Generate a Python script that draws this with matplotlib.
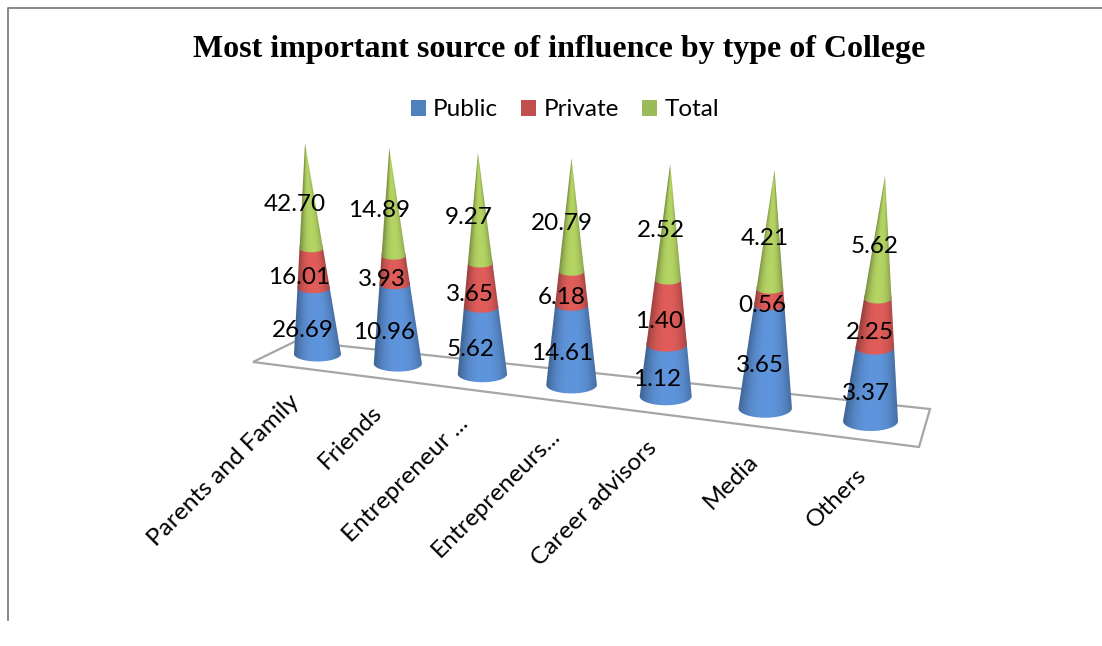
import numpy as np
import matplotlib
matplotlib.use("Agg")
import matplotlib.pyplot as plt
from matplotlib.patches import Patch, Polygon

categories = ["Parents and Family", "Friends", "Entrepreneur ...", "Entrepreneurs...",
              "Career advisors", "Media", "Others"]
public = [26.69, 10.96, 5.62, 14.61, 1.12, 3.65, 3.37]
private = [16.01, 3.93, 3.65, 6.18, 1.40, 0.56, 2.25]
total = [42.70, 14.89, 9.27, 20.79, 2.52, 4.21, 5.62]
series_names = ["Public", "Private", "Total"]

colors = ["#5f95dc", "#e05d5a", "#b4d463"]
legend_colors = ["#4f81bd", "#c0504d", "#9bbb59"]
ui_font = "Lato"


def depth(i):
    # perspective along the category axis, 0 for the first cone and 1 for the last
    return (i / (1 - 0.025 * i)) / (6 / 0.85)


def lerp(a, b, t):
    return a + (b - a) * t


fig = plt.figure(figsize=(11.02, 6.46), dpi=100)
ax = fig.add_axes([0, 0, 1, 1])
ax.axis("off")

# frame of the picture
ax.plot([8, 8, 1102], [620, 7.5, 7.5], color="#808080", lw=1.3)

# floor
ax.add_patch(Polygon([(253, 362), (296, 341), (930, 409), (919, 447)], closed=True,
                     fill=False, edgecolor="#a6a6a6", lw=1.6, zorder=1))

values = np.array([public, private, total], dtype=float)
shares = values / values.sum(axis=0)
tops = np.cumsum(shares, axis=0)

thetas = np.linspace(0, np.pi, 61)
for i in range(len(categories)):
    t = depth(i)
    base_x, base_y = lerp(317.5, 870.5, t), lerp(354, 421, t)
    apex_x, apex_y = lerp(305, 885, t), lerp(143, 176, t)
    rx, ry = lerp(23.5, 27.5, t), lerp(7.5, 10, t)

    for k in range(3):
        s0 = tops[k, i] - shares[k, i]
        # a bit of overlap under the next band, otherwise a white seam shows
        s1 = min(tops[k, i] + 0.015, 1.0)

        # outline: front arc of the lower edge, then front arc of the upper edge
        outline = []
        for s, arc in ((s0, thetas), (s1, thetas[::-1])):
            cx, cy = lerp(base_x, apex_x, s), lerp(base_y, apex_y, s)
            outline += [(cx + (1 - s) * rx * np.cos(a), cy + (1 - s) * ry * np.sin(a)) for a in arc]
        outline = np.array(outline)

        # horizontal shading, dark towards the sides of the cone
        x0, x1 = outline[:, 0].min() - 1, outline[:, 0].max() + 1
        y0, y1 = outline[:, 1].min() - 1, outline[:, 1].max() + 1
        xx, yy = np.meshgrid(np.linspace(x0, x1, 120), np.linspace(y0, y1, 120))
        s_map = np.clip((base_y - yy) / (base_y - apex_y), 0, 0.995)
        u = (xx - lerp(base_x, apex_x, s_map)) / ((1 - s_map) * rx)
        shade = 1 - 0.3 * np.clip(np.abs(u - 0.05), 0, 1) ** 2.5
        img = shade[..., None] * np.array(matplotlib.colors.to_rgb(colors[k]))
        im = ax.imshow(img, extent=(x0, x1, y1, y0), aspect="auto", origin="upper",
                       interpolation="bilinear", zorder=2 + i)
        im.set_clip_path(Polygon(outline, closed=True, transform=ax.transData))

    # value labels sit a little left of and below the middle of each band
    for k in range(3):
        mid = tops[k, i] - shares[k, i] / 2
        lx = lerp(base_x, apex_x, mid) - 13 + 1.1 * i
        ly = lerp(base_y, apex_y, mid) + 9
        ax.text(lx, ly, f"{values[k, i]:.2f}", ha="center", va="center",
                fontsize=17.5, family=ui_font, color="black", zorder=20)

    # category labels end under the cone
    ax.text(lerp(296, 863, t), lerp(398, 472, t), categories[i], rotation=45,
            rotation_mode="anchor", ha="right", va="center",
            fontsize=17.6, family=ui_font, color="black")

ax.text(559, 50, "Most important source of influence by type of College", ha="center",
        va="center", fontsize=23.05, fontweight="bold", family="Liberation Serif")

handles = [Patch(facecolor=c, edgecolor="none") for c in legend_colors]
ax.legend(handles, series_names, ncol=3, loc="center", bbox_to_anchor=(565, 110),
          bbox_transform=ax.transData, frameon=False,
          prop={"family": ui_font, "size": 17.5},
          handlelength=0.62, handleheight=0.62, handletextpad=0.3, columnspacing=0.95)

ax.set_xlim(0, 1102)
ax.set_ylim(646, 0)

fig.savefig("out.png", dpi=100)
